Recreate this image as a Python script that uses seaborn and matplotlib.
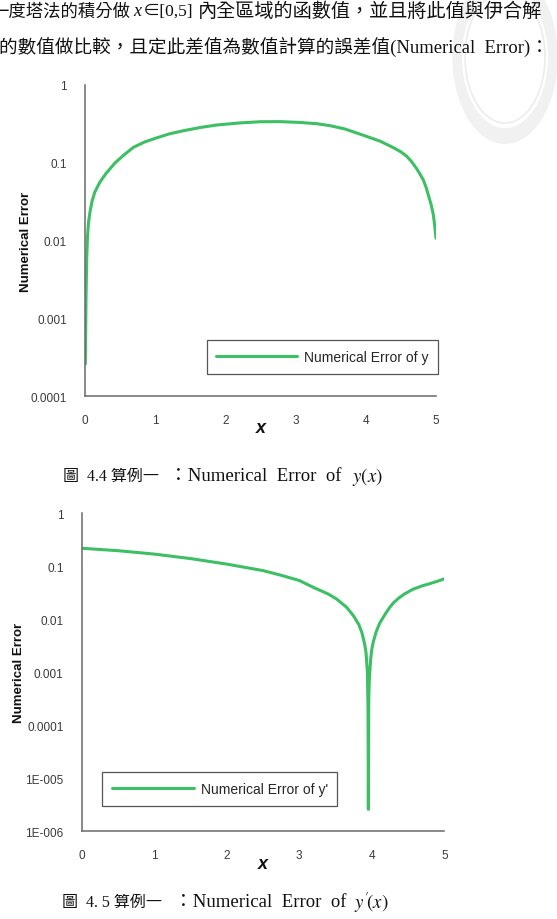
import matplotlib
matplotlib.use("Agg")
import matplotlib.pyplot as plt
import seaborn as sns
import pandas as pd
from matplotlib.patches import Wedge, Circle
from matplotlib.ticker import FixedLocator, MultipleLocator, LogLocator, NullFormatter

# values
y_err_x = [0.005, 0.015, 0.025, 0.035, 0.05, 0.07, 0.1, 0.14, 0.21, 0.3, 0.43, 0.55, 0.69, 0.85,
           1.0, 1.2, 1.4, 1.65, 1.88, 2.2, 2.5, 2.78, 3.06, 3.3, 3.49, 3.7, 3.85, 4.0, 4.2, 4.3,
           4.4, 4.5, 4.58, 4.65, 4.72, 4.77, 4.82, 4.86, 4.9, 4.93, 4.96, 4.98, 5.0]
y_err_val = [2.6e-4, 0.002, 0.006, 0.011, 0.017, 0.023, 0.032, 0.042, 0.056, 0.073, 0.1, 0.125,
             0.158, 0.185, 0.206, 0.235, 0.258, 0.285, 0.306, 0.325, 0.337, 0.338, 0.33, 0.318,
             0.30, 0.272, 0.245, 0.22, 0.19, 0.172, 0.155, 0.138, 0.122, 0.104, 0.085, 0.072,
             0.06, 0.048, 0.036, 0.029, 0.022, 0.016, 0.0107]

dy_err_x = [0.0, 0.5, 1.0, 1.5, 2.0, 2.5, 2.735, 3.0, 3.195, 3.4, 3.517, 3.65, 3.747, 3.82,
            3.862, 3.9, 3.92, 3.94, 3.948, 3.953, 3.958, 3.965, 3.977, 3.985, 4.0, 4.02, 4.06,
            4.11, 4.16, 4.2, 4.25, 4.3, 4.37, 4.45, 4.57, 4.7, 4.8, 4.9, 5.0]
dy_err_val = [0.219, 0.197, 0.17, 0.14, 0.11, 0.083, 0.0686, 0.054, 0.040, 0.030, 0.024, 0.017,
              0.0117, 0.008, 0.0057, 0.0035, 0.0024, 0.001, 2.0e-4, 2.6e-6, 3.0e-4, 7.0e-4, 0.0012,
              0.0018, 0.0027, 0.0037, 0.0058, 0.0085, 0.011, 0.0135, 0.017, 0.0205, 0.025, 0.030,
              0.037, 0.043, 0.047, 0.052, 0.058]

x_ticks = [0, 1, 2, 3, 4, 5]
top_yticks = [1e-4, 1e-3, 1e-2, 1e-1, 1]
top_ylabels = ["0.0001", "0.001", "0.01", "0.1", "1"]
bot_yticks = [1e-6, 1e-5, 1e-4, 1e-3, 1e-2, 1e-1, 1]
bot_ylabels = ["1E-006", "1E-005", "0.0001", "0.001", "0.01", "0.1", "1"]

line_color = "#3dbf63"
axis_color = "#6a6a6a"
tick_text = "#3a3a3a"

sns.set_style("white")
plt.rcParams['font.family'] = ['Liberation Sans', 'Noto Sans CJK TC', 'DejaVu Sans']
plt.rcParams['mathtext.fontset'] = 'stix'

W, H = 557, 920
fig = plt.figure(figsize=(W / 100, H / 100), dpi=100)


def px_axes(left, top, right, bottom):
    return fig.add_axes([left / W, 1 - bottom / H, (right - left) / W, (bottom - top) / H])


def ftext(x, y, s, **kw):
    # text placed in pixel coordinates from the top-left corner
    return fig.text(x / W, 1 - y / H, s, va="center", color="#111111", **kw)


def style_axes(ax, yticks, ylabels, ylab_x):
    ax.set_yscale("log")
    ax.set_xlim(0, 5)
    ax.set_ylim(yticks[0], yticks[-1])
    ax.xaxis.set_major_locator(FixedLocator(x_ticks))
    ax.xaxis.set_minor_locator(MultipleLocator(0.5))
    ax.set_xticklabels([str(t) for t in x_ticks])
    ax.yaxis.set_major_locator(FixedLocator(yticks))
    ax.set_yticklabels(ylabels)
    ax.yaxis.set_minor_locator(LogLocator(base=10, subs=range(2, 10), numticks=20))
    ax.yaxis.set_minor_formatter(NullFormatter())
    for side in ["top", "right"]:
        ax.spines[side].set_visible(False)
    for side in ["left", "bottom"]:
        ax.spines[side].set_color(axis_color)
        ax.spines[side].set_linewidth(1.1)
    ax.tick_params(which="major", direction="out", length=10, width=1, color=axis_color,
                   labelsize=8.5, labelcolor=tick_text, pad=3)
    ax.tick_params(which="minor", direction="out", length=5, width=0.8, color=axis_color)
    ax.set_ylabel("Numerical Error", fontsize=9.5, fontweight="bold", color="#111111")
    ax.yaxis.set_label_coords(ylab_x, 0.5)
    ax.set_xlabel("x", fontsize=13, fontweight="bold", fontstyle="italic", color="#111111")
    ax.xaxis.set_label_coords(0.5, -0.075)
    ax.set_facecolor("none")


# faint seal watermark in the upper right corner
seal_c = (505 / W, 1 - 58 / H)
fig.patches.append(Wedge(seal_c, 87 / H, 0, 360, width=16 / H, transform=fig.transFigure,
                         facecolor="#f1f1f1", edgecolor="none", zorder=0))
fig.patches.append(Circle(seal_c, 66 / H, transform=fig.transFigure,
                          facecolor="none", edgecolor="#ececec", lw=1.2, zorder=0))

# paragraph text above the charts
serif_cjk = ['Liberation Serif', 'Noto Sans CJK TC', 'DejaVu Serif']
ftext(130, 12, "一度塔法的積分做", fontsize=12.5, family=serif_cjk, ha="right")
ftext(133, 12, "x", fontsize=13, family=serif_cjk, style="italic", ha="left")
ftext(143, 12, "∈[0,5]", fontsize=12.5, family=serif_cjk, ha="left")
ftext(198, 12, "內全區域的函數值，並且將此值與伊合解", fontsize=13.8, family=serif_cjk, ha="left")
ftext(-1, 47, "的數值做比較，且定此差值為數值計算的誤差值(Numerical  Error)：",
      fontsize=13.4, family=serif_cjk, ha="left")

# chart 1
ax1 = px_axes(85, 86, 436, 397)
df1 = pd.DataFrame({"x": y_err_x, "err": y_err_val})
sns.lineplot(data=df1, x="x", y="err", ax=ax1, color=line_color, linewidth=2.2,
             label="Numerical Error of y", estimator=None)
style_axes(ax1, top_yticks, top_ylabels, -0.151)
leg1 = ax1.legend(loc="lower right", bbox_to_anchor=(1.006, 0.071), frameon=True,
                  fancybox=False, edgecolor="#555555", fontsize=10, handlelength=5.8,
                  handletextpad=0.5, borderpad=0.7, borderaxespad=0, framealpha=1)
leg1.get_frame().set_linewidth(0.9)
ftext(159, 477, "圖  4.4 算例一", fontsize=11.5, family=serif_cjk, ha="right")
ftext(169, 477, "：Numerical  Error  of", fontsize=13.5, family=serif_cjk, ha="left")
ftext(352, 477, "$y\\left(x\\right)$", fontsize=13.5, ha="left")

# chart 2
ax2 = px_axes(81.7, 514.3, 444.3, 832.3)
df2 = pd.DataFrame({"x": dy_err_x, "err": dy_err_val})
sns.lineplot(data=df2, x="x", y="err", ax=ax2, color=line_color, linewidth=2.2,
             label="Numerical Error of y'", estimator=None)
style_axes(ax2, bot_yticks, bot_ylabels, -0.156)
leg2 = ax2.legend(loc="lower left", bbox_to_anchor=(0.056, 0.08), frameon=True,
                  fancybox=False, edgecolor="#555555", fontsize=10, handlelength=5.9,
                  handletextpad=0.5, borderpad=0.7, borderaxespad=0, framealpha=1)
leg2.get_frame().set_linewidth(0.9)
ftext(162, 903, "圖  4. 5 算例一", fontsize=11.5, family=serif_cjk, ha="right")
ftext(174, 903, "：Numerical  Error  of", fontsize=13.5, family=serif_cjk, ha="left")
ftext(354, 903, "$y^{\\prime}\\!\\left(x\\right)$", fontsize=13.5, ha="left")

fig.savefig("out.png", dpi=100, facecolor="white")
